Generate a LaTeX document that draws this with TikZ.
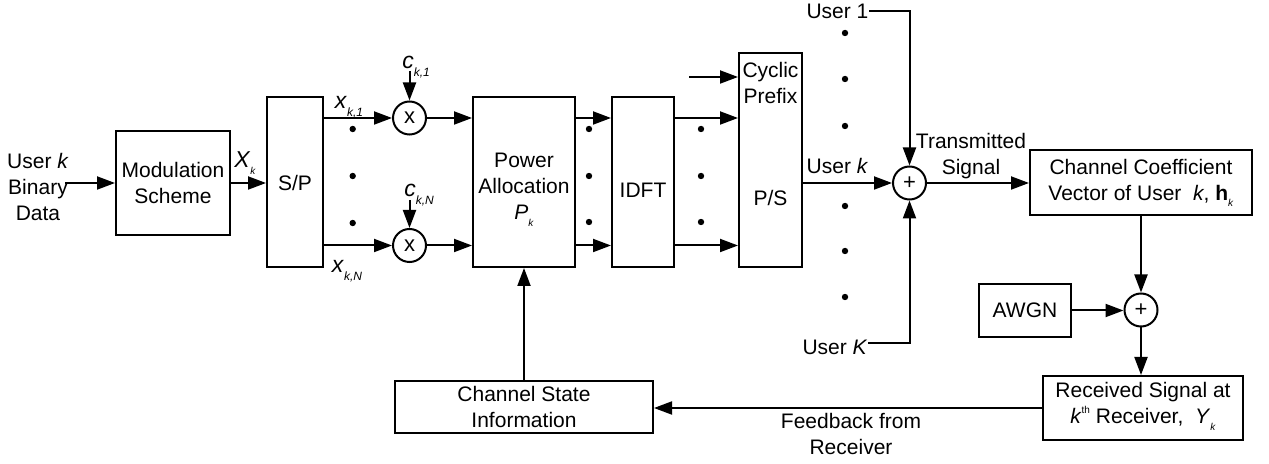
\documentclass[tikz,border=0pt]{standalone}
\usepackage{fontspec}
\setmainfont{Liberation Sans}
\usetikzlibrary{arrows.meta}
\newcommand{\tinysub}[1]{\raisebox{-0.6ex}{\fontsize{5}{5}\selectfont\textit{#1}}}
\newcommand{\subk}[2]{\textit{#1}\tinysub{#2}}
\newcommand{\midsub}[1]{\raisebox{-0.7ex}{\fontsize{6}{6}\selectfont\textit{#1}}}
\begin{document}
\begin{tikzpicture}[x=0.5pt,y=-0.5pt, line width=1pt,
  >={Triangle[length=9pt,width=6.5pt]},
  box/.style={draw, inner sep=0pt},
  txt/.style={inner sep=0pt, align=center, font=\fontsize{10.5}{13}\selectfont},
  op/.style={draw, circle, minimum size=16.5pt, inner sep=0pt, font=\fontsize{11}{11}\selectfont},
  lbl/.style={inner sep=0pt, font=\fontsize{11.5}{11.5}\selectfont}]
\useasboundingbox (0,0) rectangle (1269,464);

% boxes
\node[box, minimum width=57pt, minimum height=52pt] (mod) at (173,183) {};
\node[box, minimum width=28pt, minimum height=85pt] (sp) at (295,182) {};
\node[box, minimum width=51pt, minimum height=85pt] (pow) at (524,182) {};
\node[box, minimum width=31pt, minimum height=85pt] (idft) at (643,182) {};
\node[box, minimum width=31.5pt, minimum height=107pt] (ps) at (770.5,160) {};
\node[box, minimum width=111pt, minimum height=32.5pt] (chan) at (1141,183) {};
\node[box, minimum width=46pt, minimum height=26.5pt] (awgn) at (1025,310.5) {};
\node[box, minimum width=100pt, minimum height=32pt] (recv) at (1143,408) {};
\node[box, minimum width=129pt, minimum height=26pt] (csi) at (524,407) {};

% operators
\node[op] (m1) at (409.5,118) {x};
\node[op] (m2) at (409.5,245.5) {x};
\node[op] (s1) at (909.5,183) {+};
\node[op] (s2) at (1141,310) {+};

% box texts
\node[txt] (modt) at (173,183) {Modulation\\Scheme};
\node[txt] (spt) at (295,183) {S/P};
\node[txt] (powt) at (524,190) {Power\\Allocation\\\subk{P}{k}};
\node[txt] (idftt) at (643,190) {IDFT};
\node[txt] (cpt) at (770.5,82.5) {Cyclic\\Prefix};
\node[txt] (pst) at (770.5,198) {P/S};
\node[txt] (chant) at (1141,183) {Channel Coefficient\\Vector of User~ \textit{k}, \textbf{h}\tinysub{k}};
\node[txt] (awgnt) at (1025,310.5) {AWGN};
\node[txt] (recvt) at (1143,406.5) {Received Signal at\\\textit{k}\raisebox{0.9ex}{\fontsize{5}{5}\selectfont th} Receiver,~ \subk{Y}{k}};
\node[txt] (csit) at (524,406.5) {Channel State\\Information};

% free labels
\node[txt] (in) at (38,187) {User \textit{k}\\Binary\\Data};
\node[txt] (u1) at (837.5,11) {User 1};
\node[txt] (uk) at (837.5,166) {User \textit{k}};
\node[txt] (uK) at (835,347) {User \textit{K}};
\node[txt] (tx) at (971,156.5) {Transmitted\\Signal};
\node[txt] (fb) at (851,434) {Feedback from\\Receiver};
\node[lbl] (Xk) at (245,163) {\subk{X}{k}};
\node[lbl] (x1) at (349,107) {\textit{x}\midsub{k,1}};
\node[lbl] (xN) at (347,271) {\textit{x}\midsub{k,N}};
\node[lbl] (c1) at (416,67) {\textit{c}\midsub{k,1}};
\node[lbl] (cN) at (419,195) {\textit{c}\midsub{k,N}};

\coordinate (inst) at (65,183);
\coordinate (cpst) at (689,77);
\coordinate (c1st) at (409.5,71);
\coordinate (cNst) at (409.5,200);

% connectors
\draw[->] (inst) -- (mod.west |- inst);
\draw[->] (mod.east) -- (mod.east -| sp.west);
\draw[->] (sp.east |- m1.west) -- (m1.west);
\draw[->] (sp.east |- m2.west) -- (m2.west);
\draw[->] (c1st) -- (m1.north);
\draw[->] (cNst) -- (m2.north);
\draw[->] (m1.east) -- (m1.east -| pow.west);
\draw[->] (m2.east) -- (m2.east -| pow.west);
\draw[->] (pow.east |- m1) -- (idft.west |- m1);
\draw[->] (pow.east |- m2) -- (idft.west |- m2);
\draw[->] (idft.east |- m1) -- (ps.west |- m1);
\draw[->] (idft.east |- m2) -- (ps.west |- m2);
\draw[->] (cpst) -- (ps.west |- cpst);
\draw[->] (ps.east |- s1.west) -- (s1.west);
\draw[->] (u1.east) -- (u1.east -| s1) -- (s1.north);
\draw[->] ([yshift=2pt]uK.east) -- ([yshift=2pt]uK.east -| s1) -- (s1.south);
\draw[->] (s1.east) -- (s1.east -| chan.west);
\draw[->] (chan.south) -- (s2.north);
\draw[->] (awgn.east) -- (awgn.east -| s2.west);
\draw[->] (s2.south) -- (s2.south |- recv.north);
\draw[->] (recv.west) -- (recv.west -| csi.east);
\draw[->] (csi.north) -- (pow.south);

% dots
\foreach \x/\y in {352.7/129, 352.7/176, 352.7/223,
                   589/129, 589/176, 589/222,
                   701/129, 701/176, 701/222,
                   845/33, 845/79, 845/126, 845/206, 845/251, 845/297}
  \fill (\x,\y) circle (1.6pt);
\end{tikzpicture}
\end{document}
